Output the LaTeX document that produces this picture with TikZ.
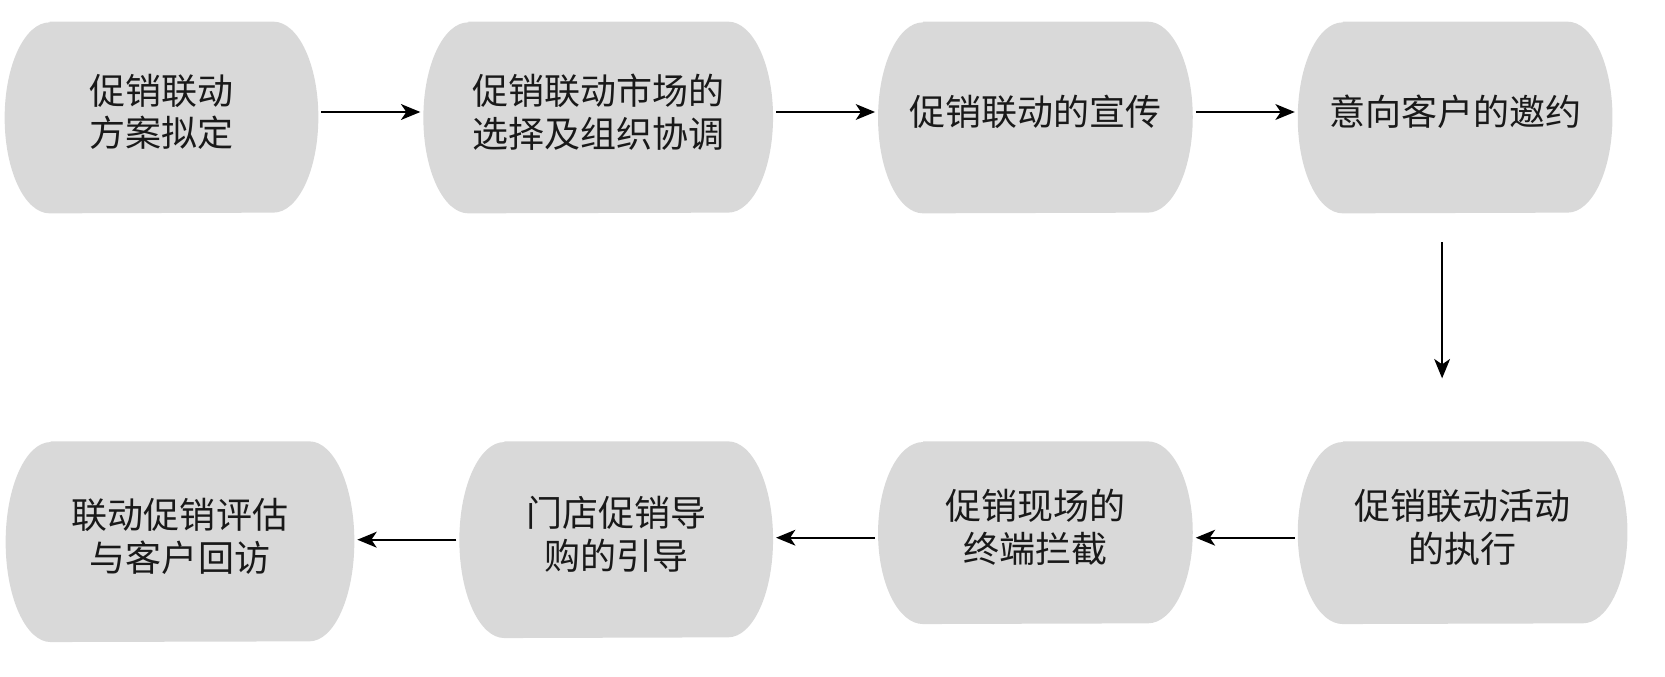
\documentclass[tikz,border=0pt]{standalone}
\usepackage{fontspec}
\newfontfamily\cjk{Noto Sans CJK SC}
\usepackage{tikz}
\usetikzlibrary{arrows.meta, positioning, backgrounds}
\definecolor{stagegray}{RGB}{217,217,217}

\begin{document}
\begin{tikzpicture}[
    node distance=4.56cm and 2.1cm,
    stage/.style={rectangle, inner sep=0pt, minimum width=6.28cm,
                  minimum height=3.82cm, align=center, text=black!90,
                  text depth=8pt,
                  font=\cjk\fontsize{20.5pt}{24.2pt}\selectfont},
    barrel/.style={fill=stagegray},
    arr/.style={-{Stealth[length=11pt, width=9pt, inset=3pt]}, line width=1.1pt,
                shorten <=0.06cm, shorten >=0.06cm}
]
\useasboundingbox (0,0) rectangle (33.3,-13.54);
\node[stage, minimum width=6.26cm] (s1) at (3.23,-2.35) {促销联动\\方案拟定};
\node[stage, minimum width=6.98cm, right=of s1] (s2) {促销联动市场的\\选择及组织协调};
\node[stage, right=of s2] (s3) {促销联动的宣传};
\node[stage, right=of s3] (s4) {意向客户的邀约};
\node[stage, minimum width=6.58cm, minimum height=3.64cm,
      below=of s4.south west, anchor=north west] (s5) {促销联动活动\\的执行};
\node[stage, minimum height=3.64cm,
      left=of s5.north west, anchor=north east] (s6) {促销现场的\\终端拦截};
\node[stage, minimum width=6.26cm, minimum height=3.92cm,
      left=of s6.north west, anchor=north east] (s7) {门店促销导\\购的引导};
\node[stage, minimum width=6.96cm, minimum height=4cm,
      left=of s7.north west, anchor=north east] (s8) {联动促销评估\\与客户回访};

% barrels: flat top and bottom, half ellipses at the sides
\begin{scope}[on background layer]
\foreach \n/\h in {s1/3.82,s2/3.82,s3/3.82,s4/3.82,s5/3.64,s6/3.64,s7/3.92,s8/4}{
  \pgfmathsetmacro\ry{\h/2}
  \fill[barrel] ([xshift=0.9cm]\n.north west) -- ([xshift=-0.9cm]\n.north east)
    arc[start angle=90, end angle=-90, x radius=0.9cm, y radius=\ry cm]
    -- ([xshift=0.9cm]\n.south west)
    arc[start angle=270, end angle=90, x radius=0.9cm, y radius=\ry cm] -- cycle;
}
\end{scope}

\draw[arr] ([yshift=0.11cm]s1.east) -- ([yshift=0.11cm]s2.west);
\draw[arr] ([yshift=0.11cm]s2.east) -- ([yshift=0.11cm]s3.west);
\draw[arr] ([yshift=0.11cm]s3.east) -- ([yshift=0.11cm]s4.west);
\draw[arr, shorten <=0.58cm, shorten >=1.26cm]
  ([xshift=-0.26cm]s4.south) -- ([xshift=-0.26cm]s4.south |- s5.north);
\draw[arr] ([yshift=-0.1cm]s5.west) -- ([yshift=-0.1cm]s5.west -| s6.east);
\draw[arr] ([yshift=-0.1cm]s6.west) -- ([yshift=-0.1cm]s6.west -| s7.east);
\draw[arr] (s7.west) -- (s7.west -| s8.east);
\end{tikzpicture}
\end{document}
